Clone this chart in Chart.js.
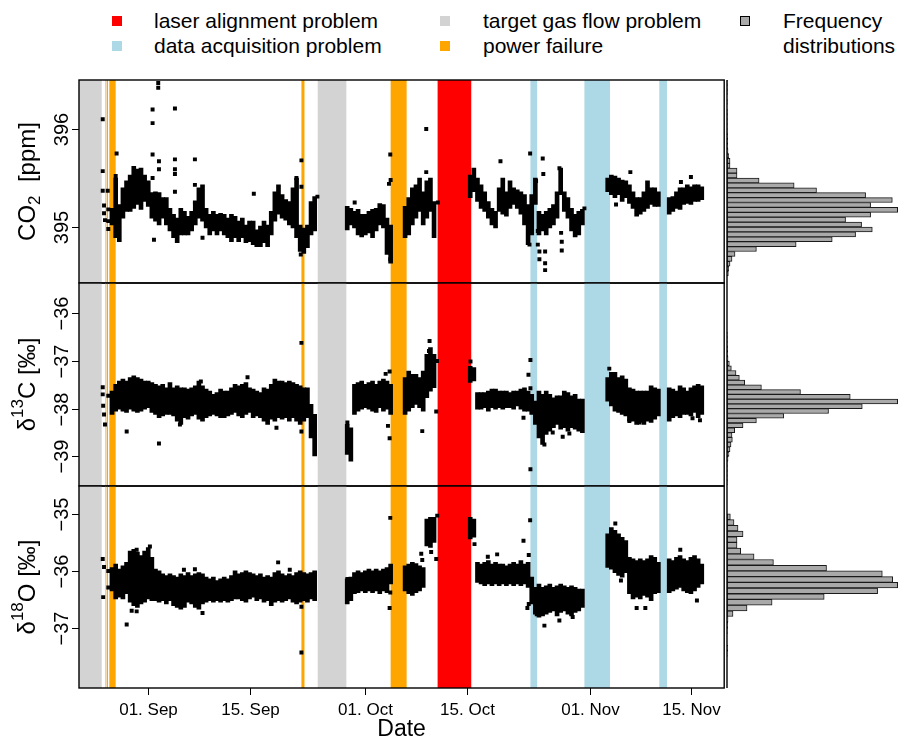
<!DOCTYPE html>
<html><head><meta charset="utf-8">
<script src="https://cdn.jsdelivr.net/npm/chart.js@4.4.1/dist/chart.umd.min.js"></script>
<style>
body{margin:0;background:#fff;width:898px;height:739px;overflow:hidden;position:relative;font-family:"Liberation Sans",Arial,Helvetica,sans-serif;}
canvas{position:absolute;}
.lg{position:absolute;font-size:21px;line-height:24px;color:#000;white-space:nowrap;}
.mk{position:absolute;width:10px;height:10px;}
</style></head><body>
<div class="mk" style="left:112px;top:16px;background:#FF0000"></div>
<div class="lg" style="left:154px;top:9px">laser alignment problem</div>
<div class="mk" style="left:112px;top:41px;background:#ADD8E6"></div>
<div class="lg" style="left:154px;top:34px">data acquisition problem</div>
<div class="mk" style="left:440px;top:16px;background:#D3D3D3"></div>
<div class="lg" style="left:483px;top:9px">target gas flow problem</div>
<div class="mk" style="left:440px;top:41px;background:#FFA500"></div>
<div class="lg" style="left:483px;top:34px">power failure</div>
<div class="mk" style="left:740px;top:16px;width:8px;height:8px;background:#a9a9a9;border:1px solid #000"></div>
<div class="lg" style="left:783px;top:9px">Frequency</div>
<div class="lg" style="left:783px;top:34px">distributions</div>

<canvas id="p1" width="727" height="215" style="left:0;top:74px"></canvas>
<canvas id="p2" width="727" height="215" style="left:0;top:277px"></canvas>
<canvas id="p3" width="727" height="259" style="left:0;top:480px"></canvas>
<canvas id="h1" width="173" height="215" style="left:725px;top:74px"></canvas>
<canvas id="h2" width="173" height="215" style="left:725px;top:277px"></canvas>
<canvas id="h3" width="173" height="259" style="left:725px;top:480px"></canvas>
<script>
// ---- time axis (days since 01 Sep) ----
const tickDays = [0, 14, 30, 44, 61, 75];
const tickLabels = ['01. Sep', '15. Sep', '01. Oct', '15. Oct', '01. Nov', '15. Nov'];

// ---- problem periods ----
const bandStart = [-10, -5.98, -5.74, -5.38, 21.17, 23.42, 33.5, 39.99, 52.82, 60.28, 70.63];
const bandEnd   = [-6.43, -5.80, -5.56, -4.50, 21.59, 27.38, 35.71, 44.64, 53.75, 63.82, 71.69];
const bandType  = ['gas', 'gas', 'power', 'power', 'power', 'gas', 'power', 'laser', 'daq', 'daq', 'daq'];
const bandColors = {laser: '#FF0000', daq: '#ADD8E6', gas: '#D3D3D3', power: '#FFA500'};

// ---- measurement clouds: time bins (days since 01 Sep) with observed min / max ----
const binDays = [-5,-4.5,-4,-3.5,-3,-2.5,-2,-1.5,-1,-0.5,0,0.5,1,1.5,2,2.5,3,3.5,4,4.5,5,5.5,6,6.5,7,7.5,8,8.5,9,9.5,10,10.5,11,11.5,12,12.5,13,13.5,14,14.5,15,15.5,16,16.5,17,17.5,18,18.5,19,19.5,20,20.5,21,21.5,22,22.5,23,
27.5,28,28.5,29,29.5,30,30.5,31,31.5,32,32.5,33,33.5,
35.5,36,36.5,37,37.5,38,38.5,39,39.5,
44.5,45,45.5,46,46.5,47,47.5,48,48.5,49,49.5,50,50.5,51,51.5,52,52.5,53,53.5,54,54.5,55,55.5,56,56.5,57,57.5,58,58.5,59,59.5,60,
63.5,64,64.5,65,65.5,66,66.5,67,67.5,68,68.5,69,69.5,70,70.5,
72,72.5,73,73.5,74,74.5,75,75.5,76,76.5];

const co2Lo = [395.02,394.89,394.85,395.09,395.16,395.16,395.19,395.23,395.18,395.26,395.21,395.09,395.06,395.02,395.09,395.02,394.96,394.89,394.84,394.92,394.92,394.92,394.96,395.02,395.09,395.06,394.99,394.92,394.96,394.92,394.96,394.92,394.89,394.85,394.89,394.85,394.89,394.84,394.85,394.82,394.80,394.80,394.84,394.80,394.92,395.06,395.13,395.09,395.07,395.02,394.99,394.89,394.75,394.73,394.79,394.92,394.96,
394.97,395.02,394.99,394.92,394.90,394.92,394.94,394.89,394.96,395.02,394.99,394.72,394.63,
394.89,394.92,395.02,395.09,395.16,395.02,395.09,395.16,394.89,
395.30,395.36,395.26,395.19,395.16,395.09,395.02,394.99,395.16,395.13,395.11,395.19,395.23,395.19,395.13,395.02,394.82,394.92,395.23,394.92,394.96,394.92,394.99,395.02,395.09,395.33,395.16,395.09,394.96,394.90,394.92,395.02,
395.36,395.33,395.30,395.33,395.26,395.30,395.24,395.19,395.11,395.13,395.16,395.19,395.23,395.21,395.21,
395.13,395.16,395.19,395.18,395.23,395.24,395.23,395.26,395.26,395.28];
const co2Hi = [395.19,395.50,395.23,395.40,395.47,395.53,395.62,395.59,395.60,395.53,395.47,395.35,395.36,395.35,395.30,395.30,395.19,395.13,395.09,395.19,395.16,395.11,395.16,395.26,395.40,395.43,395.19,395.13,395.16,395.13,395.14,395.13,395.09,395.13,395.11,395.06,395.09,395.02,395.06,395.06,394.97,395.01,395.06,395.02,395.16,395.36,395.43,395.33,395.28,395.26,395.40,395.50,395.02,394.99,395.02,395.26,395.31,
395.21,395.19,395.16,395.18,395.13,395.13,395.16,395.18,395.19,395.24,395.23,395.09,395.02,
395.21,395.30,395.40,395.43,395.50,395.36,395.47,395.50,395.26,
395.53,395.60,395.50,395.43,395.36,395.26,395.19,395.16,395.40,395.50,395.36,395.47,395.40,395.38,395.36,395.33,395.23,395.33,395.50,395.16,395.13,395.16,395.19,395.23,395.36,395.60,395.36,395.30,395.19,395.13,395.16,395.18,
395.50,395.53,395.52,395.50,395.48,395.47,395.43,395.36,395.30,395.30,395.36,395.47,395.40,395.40,395.36,
395.30,395.31,395.36,395.40,395.40,395.43,395.41,395.43,395.43,395.41];

const d13cLo = [-38.12,-38.05,-38.01,-38.05,-38.08,-38.01,-38.05,-38.08,-38.05,-38.01,-37.98,-38.08,-38.12,-38.19,-38.15,-38.12,-38.12,-38.15,-38.26,-38.33,-38.19,-38.22,-38.15,-38.12,-38.22,-38.26,-38.19,-38.15,-38.12,-38.15,-38.19,-38.19,-38.15,-38.12,-38.08,-38.15,-38.19,-38.12,-38.08,-38.19,-38.15,-38.19,-38.26,-38.33,-38.22,-38.26,-38.19,-38.22,-38.19,-38.26,-38.19,-38.26,-38.33,-38.26,-38.19,-38.61,-38.99,
-38.96,-39.10,-38.12,-38.05,-38.01,-37.98,-38.01,-38.05,-38.08,-37.98,-38.05,-38.01,-38.12,
-38.12,-38.05,-37.98,-37.91,-37.98,-38.05,-37.77,-37.63,-37.56,
-37.45,-37.42,-38.01,-38.01,-37.98,-38.05,-37.98,-38.01,-37.98,-38.01,-37.98,-37.98,-38.01,-37.94,-38.01,-38.05,-38.05,-38.12,-38.33,-38.61,-38.75,-38.54,-38.47,-38.40,-38.33,-38.43,-38.40,-38.47,-38.40,-38.43,-38.47,-38.50,
-37.84,-37.94,-38.05,-38.08,-38.12,-38.15,-38.26,-38.26,-38.33,-38.29,-38.33,-38.26,-38.29,-38.22,-38.15,
-38.26,-38.19,-38.15,-38.19,-38.12,-38.12,-38.15,-38.08,-38.19,-38.12];
const d13cHi = [-37.63,-37.49,-37.42,-37.38,-37.42,-37.35,-37.31,-37.35,-37.38,-37.42,-37.42,-37.45,-37.49,-37.52,-37.49,-37.56,-37.45,-37.56,-37.52,-37.56,-37.56,-37.59,-37.56,-37.52,-37.42,-37.52,-37.59,-37.63,-37.70,-37.66,-37.59,-37.63,-37.63,-37.56,-37.49,-37.52,-37.49,-37.45,-37.56,-37.59,-37.63,-37.66,-37.56,-37.59,-37.49,-37.38,-37.42,-37.42,-37.45,-37.42,-37.45,-37.49,-37.52,-37.56,-37.56,-37.91,-38.12,
-38.33,-38.40,-37.49,-37.45,-37.42,-37.49,-37.45,-37.42,-37.49,-37.42,-37.38,-37.42,-37.49,
-37.35,-37.21,-37.28,-37.28,-37.35,-37.21,-36.86,-36.72,-36.86,
-37.11,-37.14,-37.66,-37.66,-37.66,-37.63,-37.59,-37.59,-37.63,-37.63,-37.63,-37.66,-37.63,-37.63,-37.59,-37.56,-37.63,-37.70,-37.84,-37.63,-37.70,-37.63,-37.70,-37.77,-37.73,-37.73,-37.63,-37.66,-37.73,-37.70,-37.80,-37.80,
-37.35,-37.24,-37.24,-37.35,-37.31,-37.38,-37.56,-37.59,-37.63,-37.63,-37.63,-37.63,-37.52,-37.56,-37.59,
-37.56,-37.59,-37.63,-37.52,-37.56,-37.63,-37.56,-37.52,-37.49,-37.52];

const d18oLo = [-36.35,-36.49,-36.46,-36.49,-36.40,-36.55,-36.61,-36.64,-36.58,-36.55,-36.49,-36.52,-36.52,-36.55,-36.52,-36.58,-36.52,-36.61,-36.64,-36.67,-36.64,-36.55,-36.58,-36.64,-36.67,-36.58,-36.55,-36.52,-36.55,-36.52,-36.55,-36.52,-36.55,-36.52,-36.49,-36.49,-36.52,-36.55,-36.49,-36.46,-36.52,-36.49,-36.55,-36.52,-36.61,-36.55,-36.52,-36.55,-36.52,-36.49,-36.55,-36.58,-36.55,-36.52,-36.55,-36.49,-36.52,
-36.58,-36.52,-36.40,-36.38,-36.35,-36.38,-36.35,-36.38,-36.35,-36.40,-36.35,-36.38,-36.23,
-36.35,-36.40,-36.43,-36.38,-36.35,-36.29,-35.56,-35.59,-35.50,
-35.44,-35.41,-36.20,-36.23,-36.26,-36.23,-36.26,-36.23,-36.26,-36.23,-36.26,-36.23,-36.26,-36.23,-36.26,-36.23,-36.29,-36.58,-36.76,-36.81,-36.79,-36.76,-36.73,-36.70,-36.79,-36.73,-36.70,-36.76,-36.79,-36.73,-36.70,-36.64,
-35.94,-35.97,-36.03,-36.08,-36.11,-36.03,-36.40,-36.49,-36.46,-36.49,-36.43,-36.46,-36.52,-36.40,-36.38,
-36.38,-36.35,-36.32,-36.29,-36.35,-36.38,-36.40,-36.35,-36.29,-36.23];
const d18oHi = [-35.94,-35.88,-35.97,-35.91,-35.85,-35.65,-35.62,-35.67,-35.73,-35.65,-35.59,-35.76,-35.97,-36.00,-36.05,-36.08,-36.05,-36.08,-36.11,-36.05,-36.08,-36.03,-36.08,-36.05,-36.03,-36.05,-36.11,-36.14,-36.11,-36.17,-36.14,-36.11,-36.14,-36.08,-36.00,-36.05,-36.03,-36.00,-36.03,-36.05,-36.08,-36.05,-36.11,-36.08,-36.11,-36.03,-36.00,-36.05,-36.08,-36.05,-36.08,-36.03,-36.00,-36.03,-36.05,-36.03,-36.00,
-36.14,-36.11,-36.03,-36.00,-36.03,-36.00,-35.97,-36.00,-35.97,-36.00,-35.97,-35.94,-35.88,
-35.91,-35.88,-35.85,-35.87,-35.91,-35.94,-35.09,-35.06,-35.06,
-35.06,-35.09,-35.85,-35.88,-35.85,-35.82,-35.88,-35.85,-35.88,-35.88,-35.91,-35.88,-35.85,-35.88,-35.82,-35.88,-35.85,-36.11,-36.29,-36.23,-36.29,-36.26,-36.23,-36.29,-36.26,-36.23,-36.26,-36.29,-36.26,-36.29,-36.32,-36.32,
-35.35,-35.24,-35.29,-35.35,-35.41,-35.47,-35.76,-35.79,-35.82,-35.79,-35.82,-35.79,-35.73,-35.76,-35.85,
-35.79,-35.82,-35.76,-35.73,-35.79,-35.82,-35.76,-35.73,-35.79,-35.88];

// ---- isolated measurements ----
const co2OutDay = [-6.29,-6.29,-6.29,-5.60,-6.11,-6.11,-5.98,-5.52,-5.52,-5.52,-4.37,-4.50,0.6,0.6,0.6,0.6,0.79,1.38,1.38,1.48,1.48,3.69,3.69,3.69,3.69,3.69,6.45,6.45,6.45,7.5,14.59,21.17,21.17,20.48,21.08,23.38,28.53,33.27,33.45,33.5,33.45,33.45,38.42,38.42,40.03,48.68,52.78,53.6,53.84,53.84,54.06,54.06,54.52,54.6,54.85,54.85,54.85,52.69,52.69,57.06,57.15,57.15,56.83,60.28,64.65,66.63,73.62,75.0];
const co2OutVal = [396.10,395.57,395.37,395.37,395.22,395.14,395.07,395.18,395.06,394.98,395.75,395.52,396.20,396.06,395.74,395.50,394.87,396.47,396.42,395.67,395.59,396.21,395.69,395.59,395.54,395.36,395.69,395.43,395.25,394.89,395.34,395.68,395.41,395.50,394.72,395.31,395.25,395.44,395.74,395.48,394.67,394.85,396.00,395.56,395.25,395.67,395.75,395.47,394.96,394.82,394.75,394.67,395.70,395.54,394.75,394.63,394.56,394.94,394.82,394.94,394.85,394.76,395.60,395.19,395.23,395.56,395.46,395.51];
const d13cOutDay = [-6.29,-6.29,-6.23,-6.11,-5.98,-5.52,-2.98,1.48,4.38,7.27,13.72,17.72,21.17,21.17,27.52,32.81,33.36,33.13,33.36,37.87,38.88,38.8,39.9,39.8,44.54,52.82,52.55,52.82,51.86,52.82,54.06,54.75,55.9,57.28,58.2,63.72,66.49,67.87,75.22,76.25];
const d13cOutVal = [-37.55,-37.70,-37.94,-38.12,-38.33,-37.73,-38.48,-38.73,-38.33,-37.43,-37.34,-38.40,-36.62,-38.48,-38.29,-37.27,-37.22,-38.36,-38.62,-38.47,-36.58,-36.79,-37.00,-38.06,-37.01,-36.98,-37.29,-37.57,-38.19,-39.27,-38.33,-38.75,-38.50,-38.59,-38.52,-37.16,-38.26,-38.29,-38.20,-38.24];
const d18oOutDay = [-6.29,-6.23,-6.11,-5.52,-5.52,-2.98,-2.29,-1.6,0.23,-1.6,4.93,6.45,7.5,17.95,19.56,21.17,21.17,27.52,33.45,33.36,33.45,37.73,37.87,39.1,39.8,39.94,45.09,46.93,48.22,51.86,52.59,52.78,52.59,52.4,53.69,54.75,56.82,58.66,64.55,65.33,67.5,68.7,73.53,75.83];
const d18oOutVal = [-35.79,-36.46,-35.93,-36.00,-36.29,-36.94,-36.70,-36.71,-35.57,-35.63,-35.98,-35.97,-36.74,-35.85,-35.98,-37.43,-36.63,-36.14,-35.07,-36.65,-36.38,-35.70,-35.81,-35.67,-35.79,-35.03,-35.53,-35.75,-35.71,-35.47,-35.72,-35.11,-36.58,-36.65,-36.76,-36.96,-36.87,-36.81,-35.17,-36.17,-36.65,-36.65,-35.63,-36.52];

// ---- frequency distributions (bin centres, counts) ----
const co2HistBin = [394.525,394.575,394.625,394.675,394.725,394.775,394.825,394.875,394.925,394.975,395.025,395.075,395.125,395.175,395.225,395.275,395.325,395.375,395.425,395.475,395.525,395.575,395.625,395.675,395.725,395.775,395.825,395.875,395.925,395.975,396.025,396.075,396.125,396.175,396.225,396.275,396.325,396.375,396.425,396.475];
const co2HistCount = [4,5,9,15,24,88,207,315,385,435,403,355,430,511,430,495,415,268,201,96,30,30,9,9,5,3,2,2,2,1,1,1,1,1,0,1,0,1,1,1];
const d13cHistBin = [-39.55,-39.45,-39.35,-39.25,-39.15,-39.05,-38.95,-38.85,-38.75,-38.65,-38.55,-38.45,-38.35,-38.25,-38.15,-38.05,-37.95,-37.85,-37.75,-37.65,-37.55,-37.45,-37.35,-37.25,-37.15,-37.05,-36.95,-36.85,-36.75,-36.65,-36.55,-36.45];
const d13cHistCount = [1,1,1,1,1,3,6,9,12,16,15,23,48,88,170,304,405,511,369,220,103,53,37,27,13,7,3,2,2,1,1,1];
const d18oHistBin = [-37.45,-37.35,-37.25,-37.15,-37.05,-36.95,-36.85,-36.75,-36.65,-36.55,-36.45,-36.35,-36.25,-36.15,-36.05,-35.95,-35.85,-35.75,-35.65,-35.55,-35.45,-35.35,-35.25,-35.15,-35.05];
const d18oHistCount = [1,2,0,0,1,2,3,18,60,135,291,451,511,496,465,298,139,81,41,30,30,48,33,21,10];

// ---- axis definitions ----
const X_MIN = -9.57, X_MAX = 79.6;
const co2Range = [394.4286, 396.5], co2Ticks = [395, 396];
const d13cRange = [-39.6205, -35.365], d13cTicks = [-39, -38, -37, -36];
const d18oRange = [-38.054, -34.5105], d18oTicks = [-37, -36, -35];

const FONT = '"Liberation Sans", Arial, Helvetica, sans-serif';
Chart.defaults.font.family = FONT;

function fmt(v){ return (v < 0 ? '\u2212' + Math.abs(v) : String(v)); }

const panelDeco = {
  id: 'panelDeco',
  beforeDatasetsDraw(chart) {
    const {ctx, chartArea: a, scales: {x}} = chart;
    ctx.save();
    ctx.beginPath(); ctx.rect(a.left, a.top, a.right - a.left, a.bottom - a.top); ctx.clip();
    bandStart.forEach((s, i) => {
      const x0 = x.getPixelForValue(s), x1 = x.getPixelForValue(bandEnd[i]);
      ctx.fillStyle = bandColors[bandType[i]];
      ctx.fillRect(x0, a.top, x1 - x0, a.bottom - a.top);
    });
    ctx.restore();
  },
  afterDraw(chart, args, o) {
    const {ctx, chartArea: a, scales: {x, y}} = chart;
    ctx.save();
    ctx.strokeStyle = '#000'; ctx.lineWidth = 1.4;
    ctx.strokeRect(a.left, a.top, a.right - a.left, a.bottom - a.top);
    ctx.fillStyle = '#000';
    ctx.lineWidth = 1;
    o.ticks.forEach(v => {
      const py = Math.round(y.getPixelForValue(v)) + 0.5;
      ctx.beginPath(); ctx.moveTo(a.left, py); ctx.lineTo(a.left - 7, py); ctx.stroke();
      ctx.save(); ctx.translate(62, py); ctx.rotate(-Math.PI / 2);
      ctx.font = '20px ' + FONT; ctx.textAlign = 'center'; ctx.textBaseline = 'middle';
      ctx.fillText(fmt(v), 0, 0); ctx.restore();
    });
    const fs = 24;
    const parts = o.title;
    let total = 0;
    parts.forEach(p => { ctx.font = Math.round(fs * p[1]) + 'px ' + FONT; p.w = ctx.measureText(p[0]).width; total += p.w; });
    ctx.save(); ctx.translate(28, (a.top + a.bottom) / 2); ctx.rotate(-Math.PI / 2);
    ctx.textBaseline = 'middle'; ctx.textAlign = 'left';
    let cx = -total / 2;
    parts.forEach(p => { ctx.font = Math.round(fs * p[1]) + 'px ' + FONT; ctx.fillText(p[0], cx, p[2] * fs); cx += p.w; });
    ctx.restore();
    if (o.xaxis) {
      tickDays.forEach((d, i) => {
        const px = Math.round(x.getPixelForValue(d)) + 0.5;
        ctx.beginPath(); ctx.moveTo(px, a.bottom); ctx.lineTo(px, a.bottom + 7); ctx.stroke();
        ctx.font = '17px ' + FONT; ctx.textAlign = 'center'; ctx.textBaseline = 'middle';
        ctx.fillText(tickLabels[i], px, a.bottom + 22);
      });
      ctx.font = '23px ' + FONT; ctx.textAlign = 'center'; ctx.textBaseline = 'middle';
      ctx.fillText('Date', (a.left + a.right) / 2, a.bottom + 42);
    }
    ctx.restore();
  }
};

function panel(id, lo, hi, outDay, outVal, range, ticks, title, xaxis) {
  const bottomPad = xaxis ? 51 : 6;
  return new Chart(document.getElementById(id), {
    type: 'bar',
    data: { datasets: [
      { type: 'scatter', data: outDay.map((d, i) => ({x: d, y: outVal[i]})), pointStyle: 'rect', pointRadius: 2.8, pointHoverRadius: 2.8, backgroundColor: '#000', borderWidth: 0, order: 0 },
      { type: 'bar', data: binDays.map((d, i) => ({x: d, y: [lo[i], hi[i]]})), backgroundColor: '#000', borderWidth: 0, barThickness: 4, grouped: false, order: 1 }
    ]},
    options: {
      responsive: false, animation: false, devicePixelRatio: 1,
      layout: { padding: { left: 79, right: 2, top: 6, bottom: bottomPad } },
      scales: {
        x: { type: 'linear', min: X_MIN, max: X_MAX, display: false, offset: false },
        y: { type: 'linear', min: range[0], max: range[1], display: false }
      },
      plugins: { legend: { display: false }, tooltip: { enabled: false }, panelDeco: { ticks, title, xaxis } }
    },
    plugins: [panelDeco]
  });
}

const histDeco = {
  id: 'histDeco',
  afterDraw(chart) {
    const {ctx, chartArea: a} = chart;
    ctx.save(); ctx.strokeStyle = '#000'; ctx.lineWidth = 1.4;
    ctx.beginPath(); ctx.moveTo(a.left, a.top); ctx.lineTo(a.left, a.bottom); ctx.stroke();
    ctx.restore();
  }
};

function hist(id, bins, counts, range, xaxis) {
  const pts = [];
  bins.forEach((b, i) => { if (counts[i] > 0) pts.push({x: counts[i], y: b}); });
  return new Chart(document.getElementById(id), {
    type: 'bar',
    data: { datasets: [{ data: pts, backgroundColor: '#a9a9a9', borderColor: '#1a1a1a', borderWidth: 1, barPercentage: 1, categoryPercentage: 1, borderSkipped: false }] },
    options: {
      indexAxis: 'y', responsive: false, animation: false, devicePixelRatio: 1,
      layout: { padding: { left: 2, right: 0, top: 6, bottom: xaxis ? 51 : 6 } },
      scales: {
        x: { type: 'linear', min: 0, max: 512, display: false },
        y: { type: 'linear', min: range[0], max: range[1], display: false, offset: false }
      },
      plugins: { legend: { display: false }, tooltip: { enabled: false } }
    },
    plugins: [histDeco]
  });
}

panel('p1', co2Lo, co2Hi, co2OutDay, co2OutVal, co2Range, co2Ticks, [['CO', 1, 0], ['2', 0.7, 0.3], ['  [ppm]', 1, 0]], false);
panel('p2', d13cLo, d13cHi, d13cOutDay, d13cOutVal, d13cRange, d13cTicks, [['\u03B4', 1, 0], ['13', 0.7, -0.4], ['C [\u2030]', 1, 0]], false);
panel('p3', d18oLo, d18oHi, d18oOutDay, d18oOutVal, d18oRange, d18oTicks, [['\u03B4', 1, 0], ['18', 0.7, -0.4], ['O [\u2030]', 1, 0]], true);
hist('h1', co2HistBin, co2HistCount, co2Range, false);
hist('h2', d13cHistBin, d13cHistCount, d13cRange, false);
hist('h3', d18oHistBin, d18oHistCount, d18oRange, true);
</script>
</body></html>
